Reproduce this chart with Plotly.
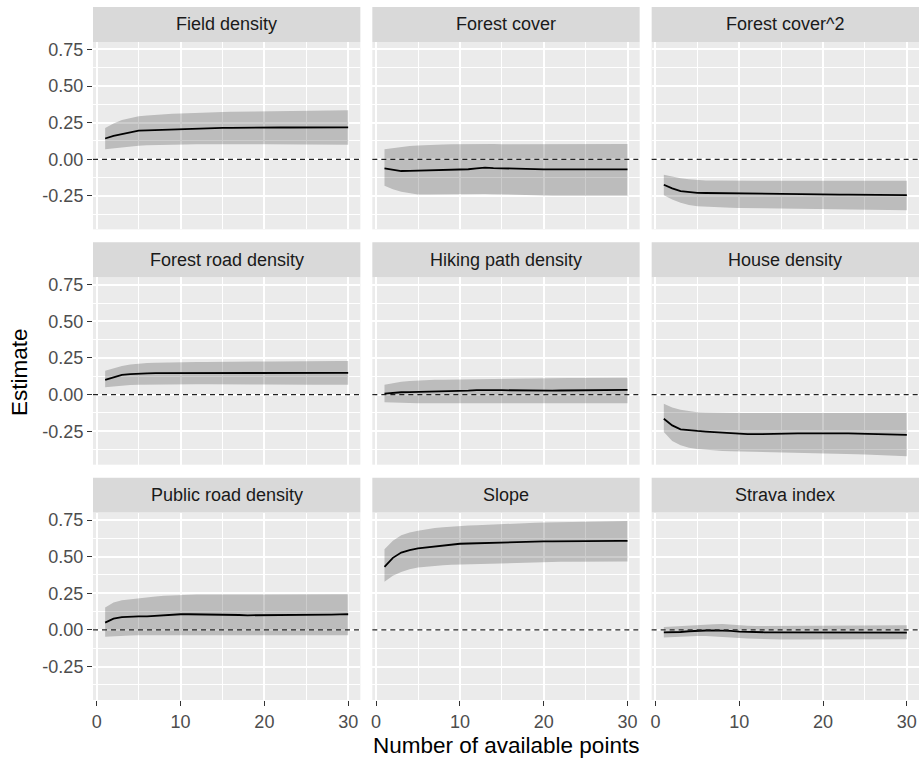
import plotly.graph_objects as go

# ---------------- data ----------------
x_points = list(range(1, 31))
panel_names = ["Field density", "Forest cover", "Forest cover^2",
               "Forest road density", "Hiking path density", "House density",
               "Public road density", "Slope", "Strava index"]

field_mean = [0.142, 0.160, 0.172, 0.185, 0.195, 0.198, 0.200, 0.202, 0.204, 0.206, 0.209, 0.212, 0.215, 0.215, 0.214,
              0.215, 0.216, 0.216, 0.216, 0.217, 0.217, 0.217, 0.217, 0.217, 0.217, 0.218, 0.218, 0.218, 0.218, 0.218]
field_upper = [0.213, 0.245, 0.268, 0.283, 0.293, 0.299, 0.304, 0.308, 0.311, 0.313, 0.316, 0.318, 0.320, 0.321, 0.323,
               0.324, 0.325, 0.326, 0.326, 0.327, 0.328, 0.329, 0.330, 0.331, 0.331, 0.332, 0.332, 0.333, 0.333, 0.334]
field_lower = [0.069, 0.076, 0.082, 0.087, 0.092, 0.095, 0.097, 0.098, 0.100, 0.103, 0.103, 0.103, 0.103, 0.102, 0.101,
               0.101, 0.102, 0.102, 0.102, 0.103, 0.103, 0.102, 0.102, 0.101, 0.101, 0.101, 0.100, 0.100, 0.100, 0.100]

fcover_mean = [-0.062, -0.072, -0.080, -0.079, -0.078, -0.077, -0.076, -0.075, -0.073, -0.071, -0.068, -0.062, -0.057, -0.060, -0.062,
               -0.065, -0.067, -0.068, -0.069, -0.069, -0.069, -0.069, -0.069, -0.069, -0.069, -0.069, -0.069, -0.069, -0.069, -0.069]
fcover_upper = [0.069, 0.078, 0.086, 0.091, 0.094, 0.098, 0.100, 0.101, 0.102, 0.103, 0.103, 0.104, 0.105, 0.104, 0.103,
                0.103, 0.103, 0.103, 0.103, 0.103, 0.104, 0.104, 0.104, 0.104, 0.105, 0.105, 0.105, 0.105, 0.105, 0.105]
fcover_lower = [-0.180, -0.205, -0.222, -0.233, -0.240, -0.240, -0.239, -0.238, -0.238, -0.238, -0.237, -0.236, -0.236, -0.238, -0.240,
                -0.242, -0.244, -0.246, -0.247, -0.248, -0.248, -0.248, -0.248, -0.248, -0.249, -0.249, -0.249, -0.249, -0.249, -0.249]

fcover2_mean = [-0.174, -0.199, -0.217, -0.225, -0.229, -0.230, -0.231, -0.232, -0.232, -0.233, -0.234, -0.235, -0.236, -0.237, -0.237,
                -0.238, -0.238, -0.239, -0.239, -0.240, -0.240, -0.241, -0.241, -0.242, -0.242, -0.243, -0.243, -0.244, -0.244, -0.245]
fcover2_upper = [-0.105, -0.120, -0.130, -0.137, -0.142, -0.144, -0.145, -0.146, -0.146, -0.146, -0.146, -0.146, -0.146, -0.146, -0.146,
                 -0.146, -0.146, -0.146, -0.146, -0.146, -0.146, -0.146, -0.146, -0.146, -0.146, -0.146, -0.146, -0.146, -0.146, -0.146]
fcover2_lower = [-0.245, -0.275, -0.297, -0.312, -0.320, -0.324, -0.327, -0.329, -0.331, -0.332, -0.333, -0.334, -0.335, -0.336, -0.337,
                 -0.337, -0.338, -0.339, -0.340, -0.341, -0.341, -0.342, -0.343, -0.344, -0.344, -0.345, -0.346, -0.346, -0.347, -0.348]

froad_mean = [0.100, 0.120, 0.135, 0.140, 0.144, 0.145, 0.146, 0.146, 0.147, 0.147, 0.148, 0.149, 0.150, 0.151, 0.151,
              0.151, 0.150, 0.150, 0.150, 0.150, 0.150, 0.150, 0.150, 0.149, 0.149, 0.149, 0.149, 0.149, 0.149, 0.149]
froad_upper = [0.163, 0.182, 0.196, 0.205, 0.212, 0.215, 0.217, 0.219, 0.220, 0.221, 0.222, 0.223, 0.223, 0.224, 0.224,
               0.225, 0.225, 0.225, 0.226, 0.226, 0.226, 0.227, 0.227, 0.228, 0.228, 0.228, 0.229, 0.229, 0.230, 0.230]
froad_lower = [0.050, 0.056, 0.061, 0.065, 0.068, 0.069, 0.070, 0.070, 0.070, 0.070, 0.071, 0.071, 0.071, 0.070, 0.070,
               0.069, 0.069, 0.069, 0.069, 0.069, 0.068, 0.068, 0.068, 0.068, 0.068, 0.068, 0.068, 0.068, 0.068, 0.068]

hiking_mean = [0.007, 0.014, 0.016, 0.017, 0.018, 0.019, 0.020, 0.021, 0.023, 0.025, 0.027, 0.030, 0.032, 0.031, 0.030,
               0.029, 0.028, 0.027, 0.027, 0.027, 0.027, 0.028, 0.028, 0.029, 0.029, 0.030, 0.030, 0.031, 0.031, 0.032]
hiking_upper = [0.068, 0.080, 0.088, 0.093, 0.097, 0.099, 0.101, 0.102, 0.103, 0.104, 0.105, 0.106, 0.107, 0.108, 0.109,
                0.109, 0.110, 0.110, 0.111, 0.111, 0.112, 0.112, 0.113, 0.113, 0.113, 0.114, 0.114, 0.114, 0.115, 0.115]
hiking_lower = [-0.052, -0.055, -0.057, -0.058, -0.059, -0.059, -0.059, -0.059, -0.059, -0.059, -0.059, -0.059, -0.059, -0.059, -0.059,
                -0.059, -0.059, -0.059, -0.059, -0.059, -0.059, -0.059, -0.059, -0.059, -0.059, -0.059, -0.059, -0.059, -0.059, -0.059]

house_mean = [-0.165, -0.210, -0.237, -0.244, -0.248, -0.252, -0.256, -0.260, -0.265, -0.269, -0.270, -0.270, -0.270, -0.270, -0.269,
              -0.267, -0.265, -0.264, -0.263, -0.262, -0.263, -0.264, -0.265, -0.266, -0.267, -0.268, -0.270, -0.272, -0.274, -0.275]
house_upper = [-0.063, -0.088, -0.104, -0.114, -0.120, -0.122, -0.124, -0.125, -0.126, -0.126, -0.126, -0.126, -0.126, -0.126, -0.126,
               -0.126, -0.126, -0.126, -0.126, -0.126, -0.126, -0.126, -0.126, -0.126, -0.126, -0.126, -0.126, -0.126, -0.126, -0.126]
house_lower = [-0.255, -0.316, -0.345, -0.362, -0.372, -0.378, -0.382, -0.385, -0.387, -0.388, -0.390, -0.391, -0.392, -0.393, -0.394,
               -0.395, -0.396, -0.397, -0.398, -0.400, -0.401, -0.403, -0.405, -0.407, -0.409, -0.411, -0.413, -0.415, -0.418, -0.420]

proad_mean = [0.050, 0.077, 0.087, 0.092, 0.093, 0.093, 0.096, 0.101, 0.107, 0.107, 0.107, 0.107, 0.107, 0.106, 0.105,
              0.104, 0.102, 0.100, 0.100, 0.100, 0.101, 0.101, 0.102, 0.102, 0.102, 0.103, 0.104, 0.105, 0.106, 0.107]
proad_upper = [0.153, 0.187, 0.202, 0.210, 0.218, 0.224, 0.229, 0.233, 0.236, 0.239, 0.240, 0.241, 0.241, 0.242, 0.242,
               0.242, 0.242, 0.242, 0.242, 0.242, 0.242, 0.243, 0.243, 0.243, 0.243, 0.243, 0.243, 0.244, 0.244, 0.244]
proad_lower = [-0.046, -0.042, -0.040, -0.038, -0.036, -0.036, -0.036, -0.036, -0.036, -0.036, -0.036, -0.036, -0.036, -0.036, -0.036,
               -0.036, -0.036, -0.036, -0.036, -0.036, -0.036, -0.036, -0.036, -0.036, -0.036, -0.036, -0.036, -0.036, -0.036, -0.036]

slope_mean = [0.430, 0.492, 0.528, 0.545, 0.556, 0.563, 0.569, 0.576, 0.582, 0.588, 0.590, 0.592, 0.594, 0.596, 0.597,
              0.598, 0.600, 0.601, 0.603, 0.604, 0.604, 0.605, 0.605, 0.606, 0.606, 0.607, 0.607, 0.607, 0.608, 0.608]
slope_upper = [0.551, 0.608, 0.647, 0.665, 0.677, 0.687, 0.695, 0.701, 0.706, 0.711, 0.713, 0.715, 0.718, 0.720, 0.722,
               0.724, 0.726, 0.728, 0.731, 0.733, 0.734, 0.735, 0.736, 0.737, 0.738, 0.739, 0.740, 0.741, 0.742, 0.743]
slope_lower = [0.328, 0.369, 0.396, 0.414, 0.426, 0.432, 0.437, 0.441, 0.444, 0.446, 0.448, 0.450, 0.452, 0.454, 0.456,
               0.458, 0.460, 0.462, 0.464, 0.465, 0.465, 0.466, 0.466, 0.466, 0.466, 0.467, 0.467, 0.467, 0.467, 0.467]

strava_mean = [-0.016, -0.016, -0.014, -0.009, -0.005, -0.004, -0.003, -0.002, -0.006, -0.011, -0.014, -0.016, -0.016, -0.016, -0.016,
               -0.015, -0.015, -0.014, -0.014, -0.014, -0.015, -0.015, -0.016, -0.016, -0.017, -0.017, -0.017, -0.018, -0.018, -0.018]
strava_upper = [0.020, 0.024, 0.028, 0.031, 0.034, 0.036, 0.039, 0.041, 0.036, 0.031, 0.028, 0.027, 0.027, 0.028, 0.028,
                0.029, 0.029, 0.030, 0.030, 0.030, 0.031, 0.031, 0.031, 0.031, 0.032, 0.032, 0.032, 0.032, 0.032, 0.032]
strava_lower = [-0.052, -0.048, -0.045, -0.043, -0.041, -0.042, -0.044, -0.046, -0.050, -0.055, -0.058, -0.061, -0.063, -0.065, -0.066,
                -0.066, -0.066, -0.066, -0.065, -0.065, -0.065, -0.065, -0.065, -0.064, -0.064, -0.064, -0.064, -0.064, -0.064, -0.064]

x_tick_vals = [0, 10, 20, 30]
x_tick_text = ["0", "10", "20", "30"]
x_minor_vals = [5, 15, 25]
y_tick_vals = [-0.25, 0.0, 0.25, 0.50, 0.75]
y_tick_text = ["-0.25", "0.00", "0.25", "0.50", "0.75"]
y_minor_vals = [-0.375, -0.125, 0.125, 0.375, 0.625]

series = [
    (field_mean, field_lower, field_upper),
    (fcover_mean, fcover_lower, fcover_upper),
    (fcover2_mean, fcover2_lower, fcover2_upper),
    (froad_mean, froad_lower, froad_upper),
    (hiking_mean, hiking_lower, hiking_upper),
    (house_mean, house_lower, house_upper),
    (proad_mean, proad_lower, proad_upper),
    (slope_mean, slope_lower, slope_upper),
    (strava_mean, strava_lower, strava_upper),
]

# ---------------- layout geometry (pixels) ----------------
W, H = 924, 761
ML, MR, MT, MB = 93, 5, 5, 61
PW = W - ML - MR
PH = H - MT - MB
COL_GAP = 12
COL_W = (PW - 2 * COL_GAP) / 3.0
STRIP_H = 35
PANEL_H = 188
ROW_GAP = 13

def px_x(px):
    return (px - ML) / PW

def px_y(py):
    return (H - MB - py) / PH

FONT = "Liberation Sans, Arial, Helvetica, sans-serif"
x_range = [-0.45, 31.45]
all_lo = min(min(s[1]) for s in series)
all_hi = max(max(s[2]) for s in series)
pad = (all_hi - all_lo) * 0.05
y_range = [all_lo - pad, all_hi + pad]

fig = go.Figure()
shapes = []
annotations = []
layout_axes = {}

for i, name in enumerate(panel_names):
    r, c = divmod(i, 3)
    k = i + 1
    xa = "x" if k == 1 else f"x{k}"
    ya = "y" if k == 1 else f"y{k}"
    mean, lo, hi = series[i]

    fig.add_trace(go.Scatter(x=x_points, y=lo, mode="lines", line=dict(width=0),
                             hoverinfo="skip", showlegend=False, xaxis=xa, yaxis=ya))
    fig.add_trace(go.Scatter(x=x_points, y=hi, mode="lines", line=dict(width=0),
                             fill="tonexty", fillcolor="rgba(0,0,0,0.2)",
                             hoverinfo="skip", showlegend=False, xaxis=xa, yaxis=ya))
    fig.add_trace(go.Scatter(x=x_points, y=mean, mode="lines",
                             line=dict(color="black", width=1.8),
                             showlegend=False, xaxis=xa, yaxis=ya))

    left = ML + c * (COL_W + COL_GAP)
    right = left + COL_W
    strip_top = MT + r * (STRIP_H + PANEL_H + ROW_GAP)
    strip_bot = strip_top + STRIP_H
    panel_top = strip_bot
    panel_bot = panel_top + PANEL_H

    bottom_row = (r == 2)
    left_col = (c == 0)

    layout_axes["xaxis" if k == 1 else f"xaxis{k}"] = dict(
        domain=[px_x(left), px_x(right)], anchor=ya, range=x_range,
        tickvals=x_tick_vals, ticktext=x_tick_text,
        showticklabels=bottom_row, ticks="outside" if bottom_row else "",
        ticklen=5, tickwidth=1.3, tickcolor="#333333",
        tickfont=dict(family=FONT, size=18, color="#4D4D4D"),
        showgrid=True, gridcolor="white", gridwidth=1.6,
        minor=dict(tickvals=x_minor_vals, showgrid=True, gridcolor="white", gridwidth=0.8, ticks=""),
        zeroline=False, showline=False, fixedrange=True,
    )
    layout_axes["yaxis" if k == 1 else f"yaxis{k}"] = dict(
        domain=[px_y(panel_bot), px_y(panel_top)], anchor=xa, range=y_range,
        tickvals=y_tick_vals, ticktext=y_tick_text,
        showticklabels=left_col, ticks="outside" if left_col else "",
        ticklen=5, tickwidth=1.3, tickcolor="#333333",
        tickfont=dict(family=FONT, size=18, color="#4D4D4D"),
        showgrid=True, gridcolor="white", gridwidth=1.6,
        minor=dict(tickvals=y_minor_vals, showgrid=True, gridcolor="white", gridwidth=0.8, ticks=""),
        zeroline=False, showline=False, fixedrange=True,
    )

    # dashed zero line
    shapes.append(dict(type="line", xref=f"{xa} domain", yref=ya, x0=0, x1=1, y0=0, y1=0,
                       line=dict(color="#222222", width=1.2, dash="5px,4px")))
    # strip
    shapes.append(dict(type="rect", xref="paper", yref="paper",
                       x0=px_x(left), x1=px_x(right), y0=px_y(strip_bot), y1=px_y(strip_top),
                       fillcolor="#D9D9D9", line=dict(width=0), layer="below"))
    annotations.append(dict(text=name, xref="paper", yref="paper",
                            x=px_x((left + right) / 2), y=px_y((strip_top + strip_bot) / 2),
                            xanchor="center", yanchor="middle", showarrow=False,
                            font=dict(family=FONT, size=18, color="#1A1A1A")))

annotations.append(dict(text="Number of available points", xref="paper", yref="paper",
                        x=px_x(ML + PW / 2), y=px_y(746), xanchor="center", yanchor="middle",
                        showarrow=False, font=dict(family=FONT, size=22.5, color="black")))
annotations.append(dict(text="Estimate", xref="paper", yref="paper",
                        x=px_x(20), y=px_y(371), xanchor="center", yanchor="middle", textangle=-90,
                        showarrow=False, font=dict(family=FONT, size=22.5, color="black")))

fig.update_layout(
    width=W, height=H,
    margin=dict(l=ML, r=MR, t=MT, b=MB),
    paper_bgcolor="white", plot_bgcolor="#EBEBEB",
    shapes=shapes, annotations=annotations, showlegend=False,
    **layout_axes,
)

fig.write_html("out.html")
